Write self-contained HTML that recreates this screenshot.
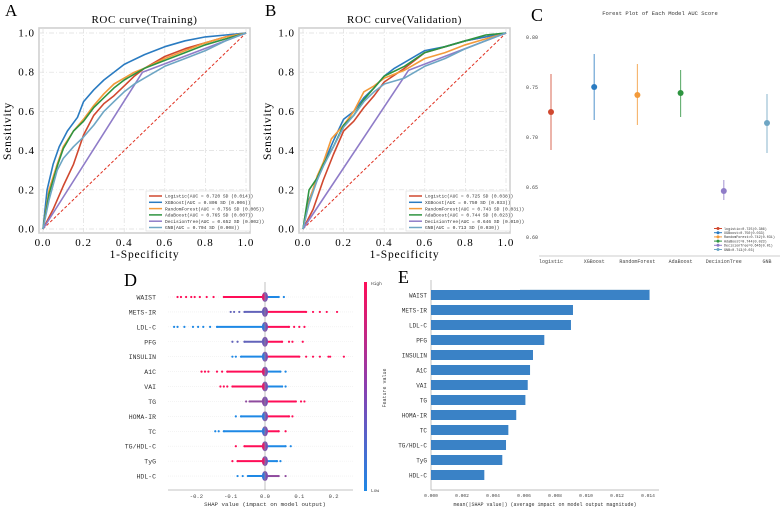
<!DOCTYPE html>
<html><head><meta charset="utf-8"><style>
html,body{margin:0;padding:0;background:#fff;}
svg{display:block;font-family:"Liberation Mono","Liberation Serif",monospace;}
</style></head><body>
<svg id="fig" width="780" height="507" viewBox="0 0 780 507" xmlns="http://www.w3.org/2000/svg">
<g id="pA"></g>
<g id="pB"></g>
<g id="pC"></g>
<g id="pD"></g>
<g id="pE"></g>
</svg>
<script>
// ---------- data ----------
const models = ["Logistic","XGBoost","RandomForest","AdaBoost","DecisionTree","GNB"];
const modelColors = ["#d0482f","#2a7bc1","#f39a3a","#2e9440","#8f7cc8","#6ea6c4"];
const trainLegend = ["Logistic(AUC = 0.720 SD (0.014))","XGBoost(AUC = 0.806 SD (0.006))","RandomForest(AUC = 0.756 SD (0.005))","AdaBoost(AUC = 0.765 SD (0.007))","DecisionTree(AUC = 0.652 SD (0.002))","GNB(AUC = 0.704 SD (0.008))"];
const validLegend = ["Logistic(AUC = 0.725 SD (0.038))","XGBoost(AUC = 0.750 SD (0.033))","RandomForest(AUC = 0.743 SD (0.031))","AdaBoost(AUC = 0.744 SD (0.023))","DecisionTree(AUC = 0.646 SD (0.010))","GNB(AUC = 0.713 SD (0.030))"];
const trainFpr = [
 [0,0.05,0.1,0.15,0.2,0.25,0.3,0.35,0.4,0.45,0.5,0.6,0.7,0.8,0.9,1],
 [0,0.02,0.05,0.08,0.12,0.17,0.2,0.25,0.3,0.35,0.4,0.5,0.6,0.7,0.8,0.9,1],
 [0,0.03,0.07,0.1,0.15,0.2,0.25,0.3,0.35,0.4,0.45,0.5,0.6,0.7,0.8,0.9,1],
 [0,0.03,0.07,0.1,0.15,0.2,0.25,0.3,0.35,0.4,0.5,0.6,0.7,0.8,0.9,1],
 [0,0.49,1],
 [0,0.03,0.07,0.1,0.15,0.2,0.25,0.3,0.35,0.4,0.45,0.5,0.6,0.7,0.8,0.9,1]];
const trainTpr = [
 [0,0.1,0.22,0.33,0.48,0.58,0.64,0.68,0.73,0.78,0.82,0.88,0.92,0.95,0.98,1],
 [0,0.2,0.33,0.42,0.5,0.57,0.65,0.71,0.76,0.8,0.84,0.89,0.93,0.96,0.98,0.99,1],
 [0,0.2,0.33,0.42,0.5,0.56,0.63,0.69,0.74,0.77,0.8,0.82,0.87,0.91,0.95,0.98,1],
 [0,0.18,0.32,0.41,0.5,0.55,0.62,0.67,0.72,0.76,0.82,0.86,0.9,0.94,0.97,1],
 [0,0.8,1],
 [0,0.15,0.3,0.36,0.42,0.47,0.53,0.6,0.65,0.7,0.74,0.77,0.83,0.87,0.91,0.96,1]];
const validFpr = [
 [0,0.05,0.1,0.15,0.2,0.25,0.3,0.35,0.4,0.5,0.6,0.7,0.8,0.9,1],
 [0,0.03,0.07,0.1,0.15,0.2,0.25,0.3,0.35,0.4,0.45,0.5,0.6,0.7,0.8,0.9,1],
 [0,0.03,0.07,0.1,0.14,0.2,0.25,0.3,0.35,0.4,0.5,0.6,0.7,0.8,0.9,1],
 [0,0.03,0.07,0.1,0.15,0.2,0.25,0.3,0.35,0.4,0.5,0.6,0.7,0.8,0.9,1],
 [0,0.52,1],
 [0,0.03,0.07,0.1,0.15,0.2,0.25,0.3,0.35,0.4,0.5,0.6,0.7,0.8,0.9,1]];
const validTpr = [
 [0,0.1,0.25,0.38,0.5,0.55,0.62,0.68,0.75,0.82,0.9,0.93,0.96,0.98,1],
 [0,0.15,0.25,0.33,0.45,0.56,0.6,0.67,0.72,0.78,0.82,0.85,0.91,0.93,0.96,0.98,1],
 [0,0.14,0.27,0.34,0.46,0.53,0.6,0.7,0.73,0.77,0.81,0.87,0.9,0.94,0.97,1],
 [0,0.2,0.26,0.33,0.42,0.53,0.58,0.66,0.72,0.78,0.83,0.9,0.93,0.96,0.99,1],
 [0,0.81,1],
 [0,0.13,0.25,0.32,0.42,0.52,0.58,0.65,0.7,0.74,0.77,0.83,0.87,0.92,0.96,1]];
const rocTicks = [0,0.2,0.4,0.6,0.8,1.0];
const rocTickLabels = ["0.0","0.2","0.4","0.6","0.8","1.0"];

const forestCats = ["logistic","XGBoost","RandomForest","AdaBoost","DecisionTree","GNB"];
const forestAuc = [0.725,0.750,0.742,0.744,0.646,0.714];
const forestLo = [0.687,0.717,0.712,0.720,0.637,0.684];
const forestHi = [0.763,0.783,0.773,0.767,0.657,0.743];
const forestLegend = ["logistic=0.725(0.386)","XGBoost=0.750(0.033)","RandomForest=0.742(0.031)","AdaBoost=0.744(0.023)","DecisionTree=0.646(0.01)","GNB=0.713(0.03)"];
const forestTicks = [0.60,0.65,0.70,0.75,0.80];
const forestTickLabels = ["0.60","0.65","0.70","0.75","0.80"];

const features = ["WAIST","METS-IR","LDL-C","PFG","INSULIN","A1C","VAI","TG","HOMA-IR","TC","TG/HDL-C","TyG","HDL-C"];
const shapNeg = [
 [-0.255,-0.245,-0.23,-0.215,-0.205,-0.19,-0.17,-0.15,-0.12],
 [-0.1,-0.09,-0.075,-0.06],
 [-0.265,-0.255,-0.235,-0.21,-0.195,-0.18,-0.16,-0.14],
 [-0.095,-0.08,-0.06],
 [-0.095,-0.085,-0.07],
 [-0.185,-0.175,-0.165,-0.14,-0.125,-0.11],
 [-0.13,-0.12,-0.11,-0.095],
 [-0.055,-0.045],
 [-0.085,-0.07],
 [-0.145,-0.135,-0.12],
 [-0.085,-0.06],
 [-0.095,-0.08],
 [-0.08,-0.065,-0.05]];
const shapPos = [
 [0.04,0.055],
 [0.12,0.14,0.16,0.18,0.21],
 [0.07,0.085,0.1,0.115],
 [0.05,0.07,0.08,0.11],
 [0.1,0.12,0.14,0.16,0.185,0.19,0.23],
 [0.045,0.06],
 [0.05,0.06],
 [0.09,0.105,0.115],
 [0.07,0.08],
 [0.04,0.06],
 [0.06,0.075],
 [0.035,0.045],
 [0.04,0.06]];
const negHigh = [1,0.3,0,0.3,0,1,1,0.5,0,0,1,1,0];
const posHigh = [0,1,1,1,1,0,0,1,1,1,0,0,0.5];
const shapTicks = [-0.2,-0.1,0.0,0.1,0.2];
const shapTickLabels = ["-0.2","-0.1","0.0","0.1","0.2"];

const meanShap = [0.0141,0.00916,0.00903,0.00731,0.00658,0.00639,0.00624,0.00609,0.0055,0.00499,0.00484,0.0046,0.00344];
const barTicks = [0,0.002,0.004,0.006,0.008,0.010,0.012,0.014];
const barTickLabels = ["0.000","0.002","0.004","0.006","0.008","0.010","0.012","0.014"];

// ---------- helpers ----------
const NS="http://www.w3.org/2000/svg";
function mk(parent,tag,attrs,text){const e=document.createElementNS(NS,tag);for(const k in attrs)e.setAttribute(k,attrs[k]);if(text!==undefined)e.textContent=text;parent.appendChild(e);return e;}
function mix(t){const a=[30,136,229],b=[255,13,87];const c=a.map((v,i)=>Math.round(v+(b[i]-v)*t));return "rgb("+c.join(",")+")";}

// ---------- ROC panels ----------
function roc(g,ox,letter,title,fprs,tprs,legend){
  const x0=ox, x1=ox+203, y0=229, y1=33;
  const sx=v=>x0+v*(x1-x0), sy=v=>y0-v*(y0-y1);
  let t;
  t=mk(g,'text',{x:ox-38,y:16,'font-size':17,'font-family':'Liberation Serif, serif'},letter);
  
  
  t=mk(g,'text',{x:(x0+x1)/2,y:23,'font-size':11,'text-anchor':'middle','font-family':'Liberation Serif, serif','letter-spacing':0.6},title);
  
  
  let r=mk(g,'rect',{x:x0-4,y:y1-5,width:x1-x0+8,height:y0-y1+9,fill:'#fff',stroke:'#d0d0d0','stroke-width':1.6});
  
  
  rocTicks.forEach((v,i)=>{
    let l=mk(g,'line',{x1:sx(v),x2:sx(v),y1:y1-5,y2:y0+4,stroke:'#ddd','stroke-width':0.7,'stroke-dasharray':'5,2,1,2'});
    
    
    l=mk(g,'line',{y1:sy(v),y2:sy(v),x1:x0-4,x2:x1+4,stroke:'#ddd','stroke-width':0.7,'stroke-dasharray':'5,2,1,2'});
    
    
    let tx=mk(g,'text',{x:sx(v),y:y0+17,'font-size':11,'text-anchor':'middle','font-family':'Liberation Serif, serif','letter-spacing':1},rocTickLabels[i]);
    
    
    tx=mk(g,'text',{x:x0-8,y:sy(v)+3.5,'font-size':11,'text-anchor':'end','font-family':'Liberation Serif, serif','letter-spacing':1},rocTickLabels[i]);
    
    
  });
  t=mk(g,'text',{x:(x0+x1)/2,y:258,'font-size':11.5,'text-anchor':'middle','font-family':'Liberation Serif, serif','letter-spacing':0.8},'1-Specificity');
  
  
  t=mk(g,'text',{x:0,y:0,'font-size':11.5,'text-anchor':'middle','font-family':'Liberation Serif, serif','letter-spacing':0.8,transform:`translate(${ox-32},${(y0+y1)/2}) rotate(-90)`},'Sensitivity');
  
  
  let d=mk(g,'line',{x1:sx(0),y1:sy(0),x2:sx(1),y2:sy(1),stroke:'#e03020','stroke-width':1,'stroke-dasharray':'3,2'});
  
  
  fprs.forEach((f,i)=>{
    const pts=f.map((v,j)=>sx(v).toFixed(1)+','+sy(tprs[i][j]).toFixed(1)).join(' ');
    const p=mk(g,'polyline',{points:pts,fill:'none',stroke:modelColors[i],'stroke-width':1.6,'stroke-linejoin':'round'});
    
    
  });
  const lg=mk(g,'g',{});
  
  
  mk(lg,'rect',{x:x1-100,y:y0-38,width:104,height:40,fill:'#fff',stroke:'#ddd','stroke-width':0.6});
  legend.forEach((s,i)=>{
    const yy=y0-33+i*6.3;
    const e=mk(lg,'g',{});
    
    
    mk(e,'line',{x1:x1-97,x2:x1-84,y1:yy,y2:yy,stroke:modelColors[i],'stroke-width':1.5});
    mk(e,'text',{x:x1-81,y:yy+1.7,'font-size':4.6,fill:'#333'},s);
  });
}
roc(document.getElementById('pA'),43,'A','ROC curve(Training)',trainFpr,trainTpr,trainLegend);
roc(document.getElementById('pB'),303,'B','ROC curve(Validation)',validFpr,validTpr,validLegend);

// ---------- Forest plot ----------
(function(){
  const g=document.getElementById('pC');
  const cx0=551, cstep=43.2;
  const sy=v=>87-(v-0.75)*1000;
  let t=mk(g,'text',{x:531,y:21,'font-size':18,'font-family':'Liberation Serif, serif'},'C');
  
  
  t=mk(g,'text',{x:660,y:15,'font-size':5.5,'text-anchor':'middle',fill:'#333'},'Forest Plot of Each Model AUC Score');
  
  
  forestTicks.forEach((v,i)=>{
    const tx=mk(g,'text',{x:526,y:sy(v)+2,'font-size':5,fill:'#444'},forestTickLabels[i]);
    
    
  });
  const ax=mk(g,'line',{x1:539,x2:780,y1:256,y2:256,stroke:'#bbb','stroke-width':0.8});
  
  
  forestCats.forEach((c,i)=>{
    const x=cx0+i*cstep;
    const tx=mk(g,'text',{x:x,y:263,'font-size':5,'text-anchor':'middle',fill:'#444'},c);
    
    
    const l=mk(g,'line',{x1:x,x2:x,y1:sy(forestHi[i]),y2:sy(forestLo[i]),stroke:modelColors[i],'stroke-width':1.1,opacity:0.75});
    
    
    const p=mk(g,'circle',{cx:x,cy:sy(forestAuc[i]),r:3,fill:modelColors[i]});
    
    
  });
  const lg=mk(g,'g',{});
  
  
  forestLegend.forEach((s,i)=>{
    const yy=228.5+i*4.2;
    const e=mk(lg,'g',{});
    
    
    mk(e,'line',{x1:714,x2:722,y1:yy,y2:yy,stroke:modelColors[i],'stroke-width':1});
    mk(e,'circle',{cx:718,cy:yy,r:1.5,fill:modelColors[i]});
    mk(e,'text',{x:724,y:yy+1.3,'font-size':3.4,fill:'#333'},s);
  });
  const sep=mk(g,'line',{x1:520,x2:650,y1:289.5,y2:289.5,stroke:'#dde8f0','stroke-width':1});
  
  
})();

// ---------- SHAP beeswarm ----------
(function(){
  const g=document.getElementById('pD');
  const sx=v=>265+v*343, rowY=i=>297+i*14.92;
  let t=mk(g,'text',{x:124,y:286,'font-size':18,'font-family':'Liberation Serif, serif'},'D');
  
  
  features.forEach((f,i)=>{
    const y=rowY(i);
    let gl=mk(g,'line',{x1:168,x2:353,y1:y,y2:y,stroke:'#eee','stroke-width':0.6,'stroke-dasharray':'1,1'});
    
    
    const lab=mk(g,'text',{x:156,y:y+2.5,'font-size':6.5,'text-anchor':'end',fill:'#333'},f);
    
    
    const row=mk(g,'g',{});
    
    
    const neg=shapNeg[i], pos=shapPos[i];
    const nInner=Math.max(...neg), pInner=Math.min(...pos);
    mk(row,'line',{x1:sx(nInner),x2:sx(0),y1:y,y2:y,stroke:mix(negHigh[i]),'stroke-width':2});
    mk(row,'line',{x1:sx(0),x2:sx(pInner),y1:y,y2:y,stroke:mix(posHigh[i]),'stroke-width':2});
    neg.forEach(v=>mk(row,'circle',{cx:sx(v),cy:y,r:1.1,fill:mix(negHigh[i])}));
    pos.forEach(v=>mk(row,'circle',{cx:sx(v),cy:y,r:1.1,fill:mix(posHigh[i])}));
    mk(row,'ellipse',{cx:sx(0),cy:y,rx:3,ry:5,fill:'#7a4fb0'});
    mk(row,'ellipse',{cx:sx(0)-1.5,cy:y,rx:1.6,ry:3.5,fill:mix(negHigh[i]),opacity:0.7});
  });
  let zl=mk(g,'line',{x1:265,x2:265,y1:282,y2:490,stroke:'#999','stroke-width':0.6});
  
  
  let ax=mk(g,'line',{x1:168,x2:353,y1:490,y2:490,stroke:'#888','stroke-width':0.6});
  
  
  shapTicks.forEach((v,i)=>{
    const tx=mk(g,'text',{x:sx(v),y:498,'font-size':5.5,'text-anchor':'middle',fill:'#444'},shapTickLabels[i]);
    
    
  });
  t=mk(g,'text',{x:265,y:506,'font-size':5.8,'text-anchor':'middle',fill:'#333'},'SHAP value (impact on model output)');
  
  
  const defs=mk(g,'defs',{});
  const lgd=mk(defs,'linearGradient',{id:'cb',x1:0,y1:0,x2:0,y2:1});
  mk(lgd,'stop',{offset:'0','stop-color':'#ff0d57'});
  mk(lgd,'stop',{offset:'0.5','stop-color':'#8a3fb0'});
  mk(lgd,'stop',{offset:'1','stop-color':'#1e88e5'});
  const cb=mk(g,'rect',{x:364,y:282,width:3,height:209,fill:'url(#cb)'});
  
  
  t=mk(g,'text',{x:371,y:285,'font-size':4.5,fill:'#444'},'High');
  
  
  t=mk(g,'text',{x:371,y:492,'font-size':4.5,fill:'#444'},'Low');
  
  
  t=mk(g,'text',{x:0,y:0,'font-size':5,'text-anchor':'middle',fill:'#444',transform:'translate(386,388) rotate(-90)'},'Feature value');
  
  
})();

// ---------- SHAP bar ----------
(function(){
  const g=document.getElementById('pE');
  const sx=v=>431+v*15500, rowY=i=>295+i*15;
  let t=mk(g,'text',{x:398,y:283,'font-size':18,'font-family':'Liberation Serif, serif'},'E');
  
  
  let la=mk(g,'line',{x1:431,x2:431,y1:280,y2:490,stroke:'#aaa','stroke-width':0.7});
  
  
  let ax=mk(g,'line',{x1:431,x2:659,y1:490,y2:490,stroke:'#aaa','stroke-width':0.7});
  
  
  features.forEach((f,i)=>{
    const y=rowY(i);
    const b=mk(g,'rect',{x:431,y:y-5,width:sx(meanShap[i])-431,height:10,fill:'#3a82c6'});
    
    
    const lab=mk(g,'text',{x:427,y:y+2.3,'font-size':6,'text-anchor':'end',fill:'#333'},f);
    
    
  });
  barTicks.forEach((v,i)=>{
    const tx=mk(g,'text',{x:sx(v),y:497,'font-size':4.6,'text-anchor':'middle',fill:'#444'},barTickLabels[i]);
    
    
  });
  t=mk(g,'text',{x:545,y:506,'font-size':5,'text-anchor':'middle',fill:'#333'},'mean(|SHAP value|) (average impact on model output magnitude)');
  
  
})();
</script>
</body></html>
